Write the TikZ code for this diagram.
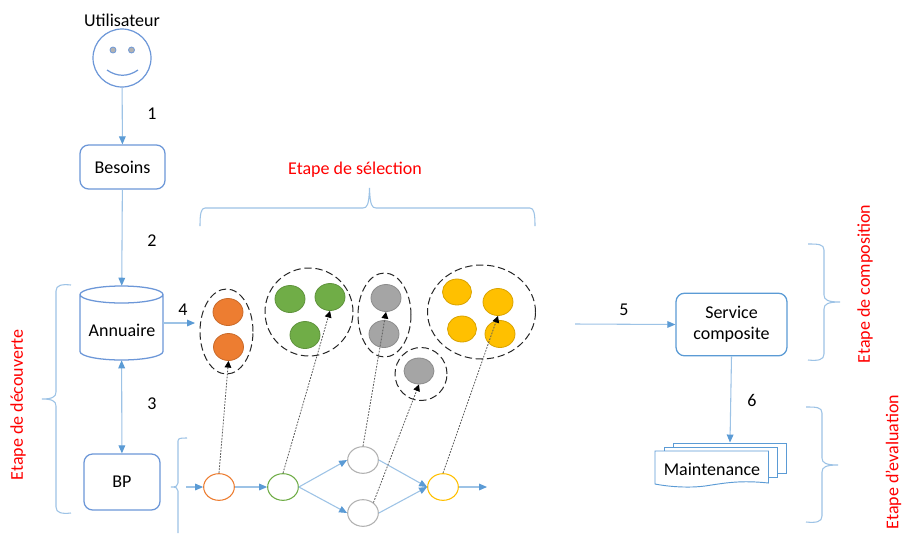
\documentclass[tikz,border=0pt]{standalone}
\usepackage{fontspec}
\setmainfont{Carlito}
\usetikzlibrary{arrows.meta,shapes.geometric}
\definecolor{linkc}{HTML}{9DC3E6}
\definecolor{headc}{HTML}{5B9BD5}
\definecolor{boxc}{HTML}{6C97D8}
\definecolor{orangef}{HTML}{ED7D31}
\definecolor{greenf}{HTML}{70AD47}
\definecolor{grayf}{HTML}{A5A5A5}
\definecolor{yellowf}{HTML}{FFC000}
\tikzset{
  x=0.75pt,y=-0.75pt,
  every node/.style={font=\fontsize{13.5}{16}\selectfont,text=black,inner sep=0pt},
  redlbl/.style={text=red,rotate=90},
  redh/.style={text=red},
  link/.style={draw=linkc,line width=0.8pt,-{Triangle[length=6pt,width=5pt,fill=headc,color=headc]}},
  dlink/.style={draw=linkc,line width=0.8pt,{Triangle[length=6pt,width=5pt,fill=headc,color=headc]}-{Triangle[length=6pt,width=5pt,fill=headc,color=headc]}},
  dotlink/.style={draw=black!65,line width=0.6pt,dash pattern=on 1.3pt off 1pt,-{Triangle[length=5pt,width=5pt,black]}},
  brace/.style={draw=linkc,line width=0.8pt},
  rbox/.style={draw=boxc,line width=0.95pt,rounded corners=6.5pt,align=center,fill=white},
  procn/.style={ellipse,fill=white,line width=0.8pt,minimum width=23pt,minimum height=20pt},
  doc/.style={draw=headc,line width=0.7pt,fill=white},
  hidden/.style={draw=none,fill=none}
}
\newcommand{\mydisc}[6]{\node[ellipse,fill=#1,draw=#1!85!black,line width=0.6pt,minimum width=#5*0.75pt,minimum height=#6*0.75pt] (#2) at (#3,#4) {};}
\newcommand{\myoval}[5]{\node[ellipse,draw=black!85,line width=0.75pt,dash pattern=on 5.5pt off 2.8pt,minimum width=#4*0.75pt,minimum height=#5*0.75pt] (#1) at (#2,#3) {};}
\newcommand{\myproc}[4]{\node[procn,draw=#2] (#1) at (#3,#4) {};}
\begin{document}
\begin{tikzpicture}
\useasboundingbox (0,0) rectangle (903,533);
\fill[white] (0,0) rectangle (903,533);

% user
\node (util) at (122,20) {Utilisateur};
\node[circle,draw=boxc,line width=0.9pt,minimum size=43.5pt] (face) at (122,58) {};
\node[circle,fill=black!30,draw=boxc,line width=0.6pt,minimum size=4.5pt] (eyea) at (113,50) {};
\node[circle,fill=black!30,draw=boxc,line width=0.6pt,minimum size=4.5pt] (eyeb) at (131.5,50) {};
\draw[boxc,line width=0.9pt] (107,70) .. controls (117,77) and (128,77) .. (138,70);

\node[rbox,minimum width=63.75pt,minimum height=33pt] (besoins) at (122.5,167) {Besoins};

% Annuaire
\node[hidden,minimum width=62.25pt,minimum height=55.5pt] (annu) at (121.5,323) {};
\draw[boxc,line width=0.95pt] (80,294.5) arc[start angle=180,end angle=360,x radius=41.5,y radius=-8.5]
  arc[start angle=0,end angle=180,x radius=41.5,y radius=-8.5] -- (80,351.5)
  arc[start angle=180,end angle=360,x radius=41.5,y radius=-8.5] -- (163,294.5);
\node (annut) at (122,330) {Annuaire};

\node[rbox,minimum width=57pt,minimum height=42pt] (bp) at (122,482) {BP};

% selection groups
\myoval{oa}{226.5}{331.5}{53}{85}
\mydisc{orangef}{orua}{228}{312}{30}{27}
\mydisc{orangef}{orub}{228.5}{347}{30}{27}
\myoval{ob}{309}{312}{88}{88}
\mydisc{greenf}{gra}{290}{299}{30}{27}
\mydisc{greenf}{grb}{330}{297}{30}{27}
\mydisc{greenf}{grc}{305}{335}{30}{27}
\myoval{oc}{384.5}{315}{53}{84}
\mydisc{grayf}{gya}{386}{298}{30}{27}
\mydisc{grayf}{gyb}{384}{334}{30}{27}
\myoval{od}{421}{374}{52}{53}
\mydisc{grayf}{gyc}{419}{371}{30}{26}
\myoval{oe}{481.5}{312}{108}{94}
\mydisc{yellowf}{yea}{457}{292}{29}{26}
\mydisc{yellowf}{yeb}{498}{302}{30}{27}
\mydisc{yellowf}{yec}{462}{329}{29}{26}
\mydisc{yellowf}{yed}{500}{334}{30}{27}

% process
\myproc{po}{orangef}{219}{487}
\myproc{pg}{greenf}{283}{487}
\myproc{pu}{black!30}{363}{460}
\myproc{pl}{black!30}{363}{513}
\myproc{py}{yellowf}{443}{487}
\coordinate (pin) at (186,487);
\coordinate (pout) at (487,487);
\coordinate (sel) at (195,323);
\coordinate (from5) at (575,324);

% service & docs
\node[rbox,draw=headc,minimum width=83.25pt,minimum height=47pt] (svc) at (731.5,324.5) {Service\\composite};
\node[doc,minimum width=85pt,minimum height=22.5pt] (docc) at (730,458) {};
\node[doc,minimum width=84.75pt,minimum height=22.5pt] (docb) at (720.5,462) {};
\draw[doc] (655,451) -- (768.5,451) -- (768.5,483) .. controls (740,480) and (725,483) .. (705,486)
  .. controls (690,488) and (670,487) .. (655,484) -- cycle;
\node (maint) at (712,469) {Maintenance};

% connectors
\draw[link] (face) -- (besoins);
\draw[link] (besoins) -- (annu);
\draw[dlink] (annu) -- (bp);
\draw[link] (annu.east) -- (sel);
\draw[link] (pin) -- (po);
\draw[link] (po) -- (pg);
\draw[link] (pg.east) -- (pu.west);
\draw[link] (pg.east) -- (pl.west);
\draw[link] (pu.east) -- (py.west);
\draw[link] (pl.east) -- (py.west);
\draw[link] (py) -- (pout);
\draw[link] (from5) -- (svc.west);
\draw[link] (svc.south) -- (docc.north);

\draw[dotlink] (po.north) -- (orub.south);
\draw[dotlink] (pg.north) -- (grb.south);
\draw[dotlink] (pu.north) -- (gya.south);
\draw[dotlink] (pl.45) -- (gyc.south);
\draw[dotlink] (py.north) -- (yeb.south);

% braces
\draw[brace] (71,285) .. controls (62,284) and (56,285) .. (56,291) -- (56,392) .. controls (56,397) and (52,399) .. (42,399)
  .. controls (52,399) and (56,401) .. (56,406) -- (56,507) .. controls (56,513) and (62,514) .. (71,513);
\draw[brace] (187,438) .. controls (181,438) and (178,438) .. (178,441) -- (178,483) .. controls (178,486) and (176,487) .. (171,487)
  .. controls (176,487) and (178,488) .. (178,491) -- (178,533);
\draw[brace] (200,226) .. controls (200,214) and (201,208) .. (205,208) -- (363,208) .. controls (367,208) and (369,205) .. (369.5,188)
  .. controls (370,205) and (372,208) .. (376,208) -- (530,208) .. controls (534,208) and (535,214) .. (535,226);
\draw[brace] (808,244) .. controls (818,244) and (824,244) .. (824,250) -- (824,295) .. controls (824,300) and (828,302) .. (840,302)
  .. controls (828,302) and (824,304) .. (824,309) -- (824,354) .. controls (824,360) and (818,361) .. (808,360);
\draw[brace] (806,407) .. controls (816,407) and (822,407) .. (822,413) -- (822,458) .. controls (822,463) and (826,465) .. (838,465)
  .. controls (826,465) and (822,467) .. (822,472) -- (822,516) .. controls (822,522) and (816,523) .. (806,522);

% labels
\node (n1) at (152,114) {1};
\node (n2) at (152,241) {2};
\node (n3) at (152,404) {3};
\node (n4) at (183,310) {4};
\node (n5) at (624,310) {5};
\node (n6) at (752,400) {6};
\node[redh] (lsel) at (355,170) {Etape de sélection};
\node[redlbl] (ldec) at (18,405) {Etape de découverte};
\node[redlbl] (lcom) at (865,284) {Etape de composition};
\node[redlbl] (leva) at (893.5,462) {Etape d’evaluation};
\end{tikzpicture}
\end{document}
